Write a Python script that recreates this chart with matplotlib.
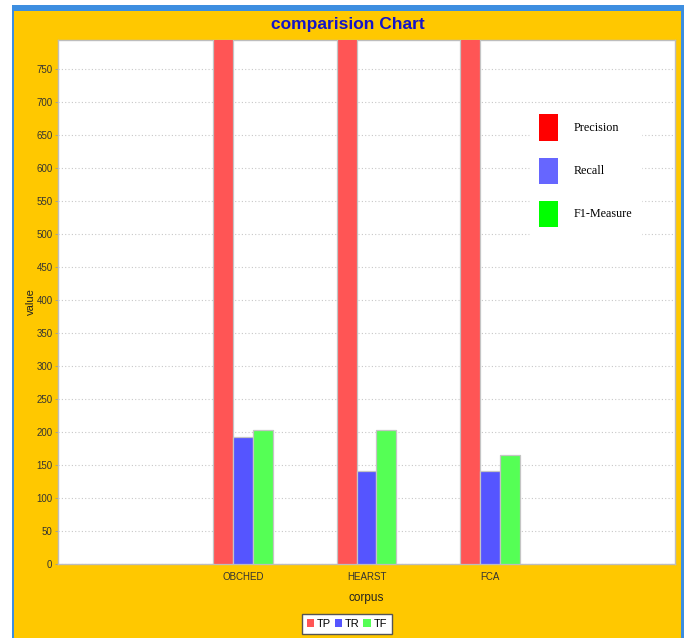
import matplotlib
matplotlib.use("Agg")
import matplotlib.pyplot as plt
from matplotlib.patches import Patch, Rectangle

plt.rcParams["font.family"] = ["Liberation Sans", "DejaVu Sans"]

# corpus names and measured values
corpus = ["OBCHED", "HEARST", "FCA"]
tp = [800, 800, 800]
tr = [192, 141, 141]
tf = [203, 203, 165]

series_names = ["TP", "TR", "TF"]
series_colors = ["#FF5555", "#5555FF", "#55FF55"]
measure_names = ["Precision", "Recall", "F1-Measure"]
measure_colors = ["#FF0000", "#6666FF", "#00FF00"]

W, H = 686, 638
fig = plt.figure(figsize=(W / 100, H / 100), dpi=100)
fig.patch.set_facecolor("white")

def fx(px):
    return px / W

def fy(py):
    return 1 - py / H

# window frame: orange panel with blue border
fig.add_artist(Rectangle((fx(12), 0), fx(672) - fx(0), fy(5), transform=fig.transFigure,
                         facecolor="#3D8EE0", edgecolor="none", zorder=0))
fig.add_artist(Rectangle((fx(13.5), 0), fx(667.5) - fx(0), fy(11), transform=fig.transFigure,
                         facecolor="#FFC800", edgecolor="none", zorder=0))

ax = fig.add_axes([fx(58), fy(564), fx(675) - fx(58), fy(40) - fy(564)])
ax.set_facecolor("white")

x = range(len(corpus))
bw = 0.162
for i, (vals, col) in enumerate(zip([tp, tr, tf], series_colors)):
    ax.bar([p + (i - 1) * bw for p in x], vals, width=bw, color=col,
           edgecolor="#C4C4C4", linewidth=0.9, zorder=3)

ax.set_xlim(-1.5, 3.5)
ax.set_ylim(0, 794)
ax.set_yticks(range(0, 751, 50))
ax.set_xticks(list(x))
ax.set_xticklabels(corpus)
ax.tick_params(axis="x", length=0, labelsize=7, colors="#333333", pad=6)
ax.tick_params(axis="y", length=2, width=0.6, color="#999999", labelsize=7,
               labelcolor="#333333", pad=2)
ax.grid(axis="y", color="#C8C8C8", linestyle=(0, (1, 2)), linewidth=0.8, zorder=0)
for s in ax.spines.values():
    s.set_color("#BDBDBD")
    s.set_linewidth(1.0)

ax.set_ylabel("value", fontsize=8, color="#222222", labelpad=0)
ax.set_xlabel("corpus", fontsize=8.5, color="#222222", labelpad=7)

fig.text(fx(348), fy(24), "comparision Chart", ha="center", va="center",
         fontsize=12.5, fontweight="bold", color="#1414C8")

# measure legend inside the plot
m_handles = [Patch(facecolor=c, edgecolor="none") for c in measure_colors]
leg1 = ax.legend(m_handles, measure_names, loc="upper left",
                 bbox_to_anchor=(fx(524), fy(100)), bbox_transform=fig.transFigure,
                 prop={"family": "Liberation Serif", "size": 8.7},
                 handlelength=1.6, handleheight=2.95, handletextpad=1.3,
                 labelspacing=1.4, borderpad=0.7, frameon=True, fancybox=False,
                 facecolor="white", edgecolor="white", framealpha=1)
leg1.set_zorder(5)
ax.add_artist(leg1)

# series legend below the chart
s_handles = [Patch(facecolor=c, edgecolor="none") for c in series_colors]
leg2 = fig.legend(s_handles, series_names, loc="center",
                  bbox_to_anchor=(fx(347), fy(624)), ncol=3,
                  fontsize=8, handlelength=0.7, handleheight=0.7,
                  handletextpad=0.25, columnspacing=0.3, borderpad=0.45,
                  fancybox=False, edgecolor="#555555", facecolor="white",
                  framealpha=1)
leg2.get_frame().set_linewidth(1.0)

fig.savefig("out.png", dpi=100)
